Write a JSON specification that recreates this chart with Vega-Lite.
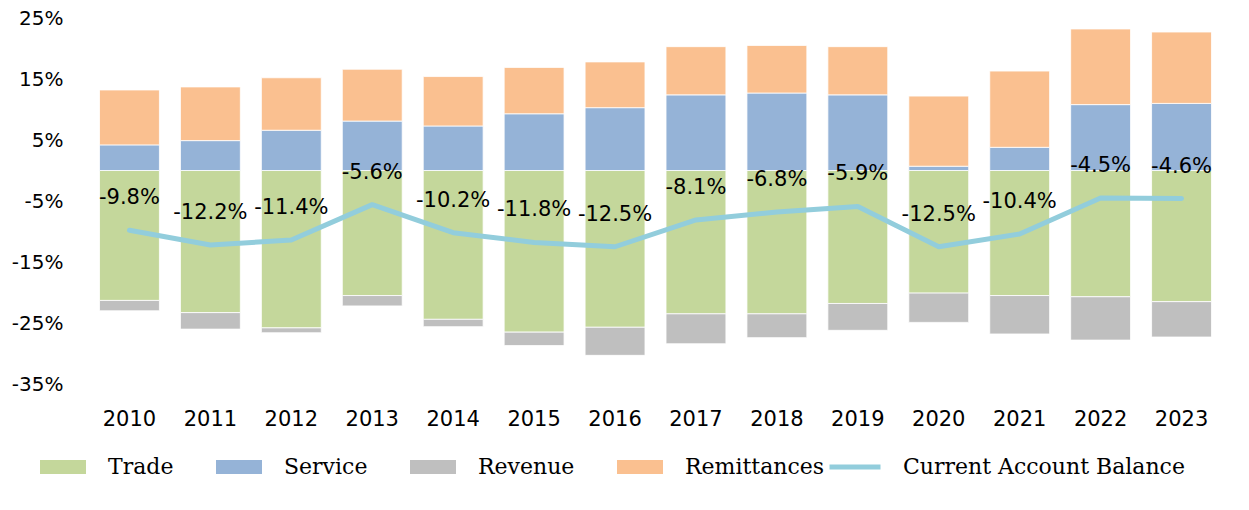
{
  "$schema": "https://vega.github.io/schema/vega-lite/v6.json",
  "width": 1133,
  "height": 366,
  "autosize": {"type": "none"},
  "padding": {"left": 89, "top": 18, "right": 27, "bottom": 126},
  "background": "white",
  "config": {
    "view": {"stroke": null},
    "font": "DejaVu Sans"
  },
  "datasets": {
    "bars": [
      {"year": "2010", "series": "Trade", "value": -21.3},
      {"year": "2010", "series": "Revenue", "value": -1.7},
      {"year": "2010", "series": "Service", "value": 4.2},
      {"year": "2010", "series": "Remittances", "value": 9.0},
      {"year": "2011", "series": "Trade", "value": -23.3},
      {"year": "2011", "series": "Revenue", "value": -2.7},
      {"year": "2011", "series": "Service", "value": 4.9},
      {"year": "2011", "series": "Remittances", "value": 8.8},
      {"year": "2012", "series": "Trade", "value": -25.8},
      {"year": "2012", "series": "Revenue", "value": -0.8},
      {"year": "2012", "series": "Service", "value": 6.6},
      {"year": "2012", "series": "Remittances", "value": 8.6},
      {"year": "2013", "series": "Trade", "value": -20.5},
      {"year": "2013", "series": "Revenue", "value": -1.7},
      {"year": "2013", "series": "Service", "value": 8.1},
      {"year": "2013", "series": "Remittances", "value": 8.5},
      {"year": "2014", "series": "Trade", "value": -24.4},
      {"year": "2014", "series": "Revenue", "value": -1.2},
      {"year": "2014", "series": "Service", "value": 7.3},
      {"year": "2014", "series": "Remittances", "value": 8.1},
      {"year": "2015", "series": "Trade", "value": -26.5},
      {"year": "2015", "series": "Revenue", "value": -2.2},
      {"year": "2015", "series": "Service", "value": 9.3},
      {"year": "2015", "series": "Remittances", "value": 7.6},
      {"year": "2016", "series": "Trade", "value": -25.7},
      {"year": "2016", "series": "Revenue", "value": -4.6},
      {"year": "2016", "series": "Service", "value": 10.3},
      {"year": "2016", "series": "Remittances", "value": 7.5},
      {"year": "2017", "series": "Trade", "value": -23.5},
      {"year": "2017", "series": "Revenue", "value": -4.9},
      {"year": "2017", "series": "Service", "value": 12.4},
      {"year": "2017", "series": "Remittances", "value": 7.9},
      {"year": "2018", "series": "Trade", "value": -23.5},
      {"year": "2018", "series": "Revenue", "value": -3.9},
      {"year": "2018", "series": "Service", "value": 12.7},
      {"year": "2018", "series": "Remittances", "value": 7.8},
      {"year": "2019", "series": "Trade", "value": -21.8},
      {"year": "2019", "series": "Revenue", "value": -4.4},
      {"year": "2019", "series": "Service", "value": 12.4},
      {"year": "2019", "series": "Remittances", "value": 7.9},
      {"year": "2020", "series": "Trade", "value": -20.1},
      {"year": "2020", "series": "Revenue", "value": -4.8},
      {"year": "2020", "series": "Service", "value": 0.7},
      {"year": "2020", "series": "Remittances", "value": 11.5},
      {"year": "2021", "series": "Trade", "value": -20.5},
      {"year": "2021", "series": "Revenue", "value": -6.3},
      {"year": "2021", "series": "Service", "value": 3.8},
      {"year": "2021", "series": "Remittances", "value": 12.5},
      {"year": "2022", "series": "Trade", "value": -20.7},
      {"year": "2022", "series": "Revenue", "value": -7.1},
      {"year": "2022", "series": "Service", "value": 10.8},
      {"year": "2022", "series": "Remittances", "value": 12.4},
      {"year": "2023", "series": "Trade", "value": -21.5},
      {"year": "2023", "series": "Revenue", "value": -5.8},
      {"year": "2023", "series": "Service", "value": 11.0},
      {"year": "2023", "series": "Remittances", "value": 11.7}
    ],
    "balance": [
      {"year": "2010", "cab": -9.8},
      {"year": "2011", "cab": -12.2},
      {"year": "2012", "cab": -11.4},
      {"year": "2013", "cab": -5.6},
      {"year": "2014", "cab": -10.2},
      {"year": "2015", "cab": -11.8},
      {"year": "2016", "cab": -12.5},
      {"year": "2017", "cab": -8.1},
      {"year": "2018", "cab": -6.8},
      {"year": "2019", "cab": -5.9},
      {"year": "2020", "cab": -12.5},
      {"year": "2021", "cab": -10.4},
      {"year": "2022", "cab": -4.5},
      {"year": "2023", "cab": -4.6}
    ]
  },
  "encoding": {
    "x": {
      "field": "year",
      "type": "ordinal",
      "title": null,
      "scale": {"paddingInner": 0.26, "paddingOuter": 0.13},
      "axis": {
        "labelAngle": 0,
        "ticks": false,
        "domain": false,
        "labelPadding": 24,
        "labelFont": "DejaVu Sans",
        "labelFontSize": 21,
        "labelColor": "#000000"
      }
    }
  },
  "layer": [
    {
      "mark": {"type": "rule", "color": "#D9D9D9", "strokeWidth": 2},
      "encoding": {"y": {"datum": 0, "type": "quantitative", "scale": {"domain": [-35, 25], "nice": false}}, "x": null}
    },
    {
      "data": {"name": "bars"},
      "transform": [
        {"calculate": "indexof(['Trade','Service','Revenue','Remittances'], datum.series)", "as": "ord"}
      ],
      "mark": {"type": "bar", "stroke": "white", "strokeWidth": 0.8},
      "encoding": {
        "y": {
          "field": "value",
          "type": "quantitative",
          "stack": "zero",
          "title": null,
          "scale": {"domain": [-35, 25], "nice": false},
          "axis": {
            "values": [-35, -25, -15, -5, 5, 15, 25],
            "labelExpr": "datum.value + '%'",
            "ticks": false,
            "domain": false,
            "grid": false,
            "labelPadding": 26,
            "labelFont": "DejaVu Sans",
            "labelFontSize": 20,
            "labelColor": "#000000"
          }
        },
        "color": {
          "field": "series",
          "type": "nominal",
          "scale": {
            "domain": ["Trade", "Service", "Revenue", "Remittances"],
            "range": ["#C4D79B", "#95B3D7", "#BFBFBF", "#FAC090"]
          },
          "legend": {
            "orient": "none",
            "legendX": -49,
            "legendY": 426,
            "direction": "horizontal",
            "title": null,
            "symbolType": "M-1,-0.3H1V0.3H-1Z",
            "symbolSize": 2116,
            "symbolStrokeWidth": 0,
            "labelFont": "DejaVu Serif",
            "labelFontSize": 22,
            "labelColor": "#000000",
            "labelOffset": 22,
            "columnPadding": 42,
            "labelLimit": 400
          }
        },
        "order": {"field": "ord", "type": "quantitative"}
      }
    },
    {
      "data": {"name": "balance"},
      "mark": {"type": "line", "strokeWidth": 5, "strokeJoin": "round", "strokeCap": "round"},
      "encoding": {
        "y": {"field": "cab", "type": "quantitative"},
        "stroke": {
          "datum": "Current Account Balance",
          "scale": {"range": ["#92CDDC"]},
          "legend": {
            "orient": "none",
            "legendX": 738,
            "legendY": 421,
            "title": null,
            "symbolType": "stroke",
            "symbolSize": 2601,
            "symbolStrokeWidth": 5,
            "labelFont": "DejaVu Serif",
            "labelFontSize": 22,
            "labelColor": "#000000",
            "labelOffset": 20,
            "labelLimit": 400
          }
        }
      }
    },
    {
      "data": {"name": "balance"},
      "transform": [{"calculate": "toString(datum.cab) + '%'", "as": "label"}],
      "mark": {"type": "text", "dy": -32, "baseline": "middle", "align": "center", "font": "DejaVu Sans", "fontSize": 21, "color": "#000000"},
      "encoding": {
        "y": {"field": "cab", "type": "quantitative"},
        "text": {"field": "label"}
      }
    }
  ]
}
